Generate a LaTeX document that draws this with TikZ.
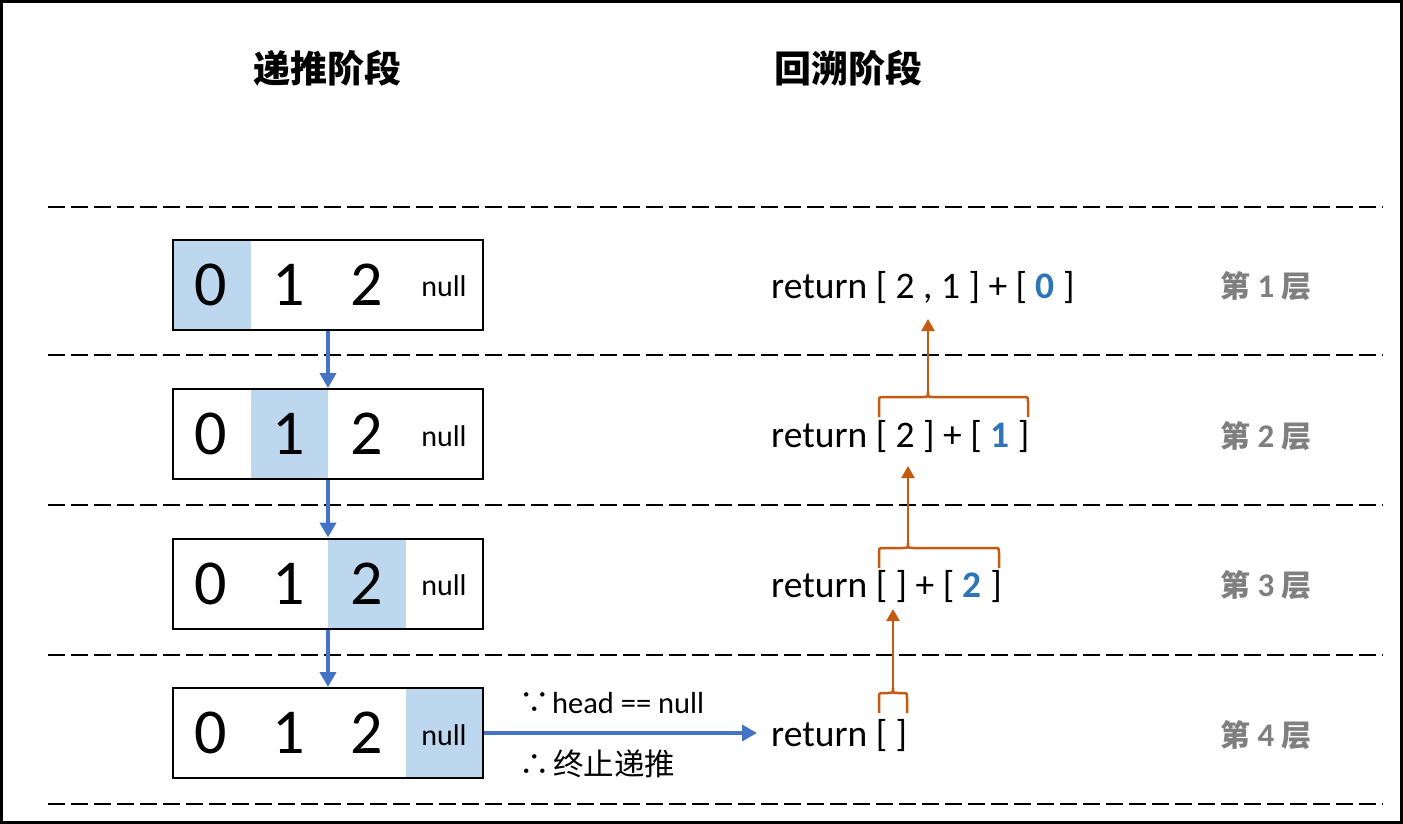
\documentclass[tikz,border=0pt]{standalone}
\usepackage{fontspec}
\setmainfont{Carlito}
\newfontfamily\cjk{Noto Sans CJK SC}
\usetikzlibrary{arrows.meta}
\definecolor{hl}{RGB}{189,215,238}
\definecolor{bluearr}{RGB}{68,114,196}
\definecolor{orarr}{RGB}{197,90,17}
\definecolor{numblue}{RGB}{46,117,182}
\definecolor{graytxt}{RGB}{127,127,127}
\tikzset{
  dashline/.style={line width=2pt, dash pattern=on 17pt off 6pt},
  cellbox/.style={draw, line width=2pt, minimum width=310pt, minimum height=90pt, inner sep=0pt},
  dig/.style={inner sep=0pt, font=\fontsize{64}{64}\selectfont},
  nul/.style={inner sep=0pt, anchor=base, font=\fontsize{30}{30}\selectfont},
  ret/.style={inner sep=0pt, anchor=base west, font=\fontsize{37.5}{37.5}\selectfont},
  lvl/.style={inner sep=0pt, anchor=base, text=graytxt, font=\fontsize{30}{30}\selectfont\bfseries},
  ttl/.style={inner sep=0pt, font=\cjk\bfseries\fontsize{37}{37}\selectfont},
  note/.style={inner sep=0pt, anchor=base west, font=\fontsize{30.5}{30.5}\selectfont},
  barrow/.style={bluearr, line width=4pt, -{Triangle[length=15pt,width=16pt]}},
  oarrow/.style={orarr, line width=2.5pt, -{Triangle[length=12pt,width=13pt]}},
  obrace/.style={orarr, line width=2.5pt},
  bnum/.style={text=numblue}
}
\begin{document}
\begin{tikzpicture}[x=1pt,y=-1pt]
\useasboundingbox (0,0) rectangle (1403,824);
\fill[white] (0,0) rectangle (1403,824);
\draw[line width=3pt] (1.5,1.5) rectangle (1401.5,822.5);
% titles
\node[ttl] (t1) at (327.5,68) {递推阶段};
\node[ttl] (t2) at (848,68) {回溯阶段};
% dashed separators
\foreach \y in {207,355,505,655,804} \draw[dashline] (48,\y) -- (1383,\y);
% boxes
\foreach \i/\yc in {1/284.5,2/434,3/583.5,4/733} {
  \fill[hl] (173+77.5*\i-77.5,\yc-45) rectangle ++(77.5,90);
  \node[cellbox] (b\i) at (328,\yc) {};
  \node[dig] (d\i a) at (211,\yc) {0};
  \node[dig] (d\i b) at (289,\yc) {1};
  \node[dig] (d\i c) at (367,\yc) {2};
  \node[nul] (n\i) at (444,\yc+12) {null};
  \node[lvl] (l\i) at (1266,\yc+13) {{\cjk\bfseries 第}\hspace{0.25em}{\fontsize{33}{33}\selectfont\i}\hspace{0.25em}{\cjk\bfseries 层}};
}
% blue arrows
\draw[barrow] (b1.south) -- (b2.north);
\draw[barrow] (b2.south) -- (b3.north);
\draw[barrow] (b3.south) -- (b4.north);
\coordinate (e4) at (757,733);
\draw[barrow] (b4.east) -- (e4);
\node[note] (w1) at (519,713) {{\cjk ∵}\hspace{0.08em}head == null};
\node[note] (w2) at (519,775) {{\cjk ∴\hspace{0.12em}终止递推}};
% return texts
\node[ret] (r1) at (771,298) {return [ 2 , 1 ] + [ \textbf{\color{numblue}0} ]};
\node[ret] (r2) at (771,447) {return [ 2 ] + [ \textbf{\color{numblue}1} ]};
\node[ret] (r3) at (771,597) {return [ ] + [ \textbf{\color{numblue}2} ]};
\node[ret] (r4) at (771,746) {return [ ]};
% orange braces and arrows
\foreach \L/\R/\C/\T/\B/\n in {879/907/893/693/713/4, 879/999/908/548/568/3, 879/1028/928/397/417/2} {
  \draw[obrace] (\L,\B) -- (\L,\T+5) .. controls (\L,\T) .. (\L+5,\T) -- (\C-5,\T) .. controls (\C,\T) .. (\C,\T-5) .. controls (\C,\T) .. (\C+5,\T) -- (\R-5,\T) .. controls (\R,\T) .. (\R,\T+5) -- (\R,\B);
  \coordinate (k\n) at (\C,\T-5);
}
\coordinate (a3) at (893,609);
\coordinate (a2) at (908,466);
\coordinate (a1) at (928,319);
\draw[oarrow] (k4) -- (a3);
\draw[oarrow] (k3) -- (a2);
\draw[oarrow] (k2) -- (a1);
\end{tikzpicture}
\end{document}
